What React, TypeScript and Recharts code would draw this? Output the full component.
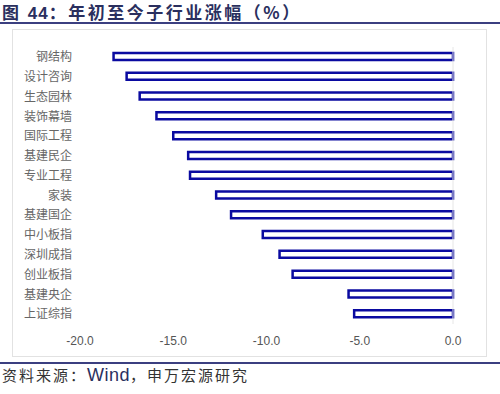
import React from "react";
import { BarChart, Bar, XAxis, YAxis, ReferenceLine } from "recharts";

const categories = ["钢结构", "设计咨询", "生态园林", "装饰幕墙", "国际工程", "基建民企", "专业工程", "家装", "基建国企", "中小板指", "深圳成指", "创业板指", "基建央企", "上证综指"];
const values = [-18.2, -17.5, -16.8, -15.9, -15.0, -14.2, -14.1, -12.7, -11.9, -10.2, -9.3, -8.6, -5.6, -5.3];
const xTicks = [-20, -15, -10, -5, 0];

const data = categories.map((name, i) => ({ name, value: values[i] }));

export default function App() {
  return (
    <div style={{ position: "absolute", left: 0, top: 0, width: 500, height: 394, background: "#fff", fontFamily: "'Noto Sans CJK SC', sans-serif" }}>
      <div style={{ position: "absolute", left: 2, top: 1, fontSize: 17, fontWeight: 700, color: "#2a2f5e", lineHeight: "21px", letterSpacing: 2.5, whiteSpace: "nowrap" }}>
        图 <span style={{ fontFamily: "Arial, 'Liberation Sans', sans-serif", letterSpacing: 1 }}>44</span>：年初至今子行业涨幅（%）
      </div>
      <div style={{ position: "absolute", left: 0, top: 22, width: 500, height: 2, background: "#3b3f80" }} />
      <div style={{ position: "absolute", left: 12, top: 29, width: 475, height: 328, border: "1px solid #e2e2e2", boxSizing: "border-box" }} />
      <div style={{ position: "absolute", left: 12, top: 29 }}>
        <BarChart width={475} height={328} data={data} layout="vertical" margin={{ top: 18, right: 34, bottom: 3, left: 0 }} barCategoryGap={0}>
          <XAxis type="number" domain={[-20, 0]} ticks={xTicks} tickFormatter={(v: number) => v.toFixed(1)} axisLine={false} tickLine={false} tick={{ fill: "#555", fontSize: 12, fontFamily: "'Liberation Sans', Arial, sans-serif" }} height={30} tickMargin={6} />
          <YAxis type="category" dataKey="name" width={68} axisLine={false} tickLine={false} tick={{ fill: "#666", fontSize: 12, fontFamily: "'Noto Sans CJK SC', sans-serif" }} interval={0} />
          <ReferenceLine x={0} stroke="#e6e6e6" strokeWidth={1} />
          <Bar dataKey="value" fill="#ffffff" stroke="#0a0aa0" strokeWidth={2.5} barSize={7} isAnimationActive={false} />
        </BarChart>
      </div>
      <div style={{ position: "absolute", left: 0, top: 362, width: 500, height: 2, background: "#3b3f80" }} />
      <div style={{ position: "absolute", left: 2, top: 366, fontSize: 15, color: "#333", lineHeight: "18px", letterSpacing: 2, whiteSpace: "nowrap" }}>
        资料来源：<span style={{ fontFamily: "Arial, 'Liberation Sans', sans-serif", fontSize: 18, color: "#2a2f5e", letterSpacing: 0.5 }}>Wind</span>，申万宏源研究
      </div>
    </div>
  );
}
